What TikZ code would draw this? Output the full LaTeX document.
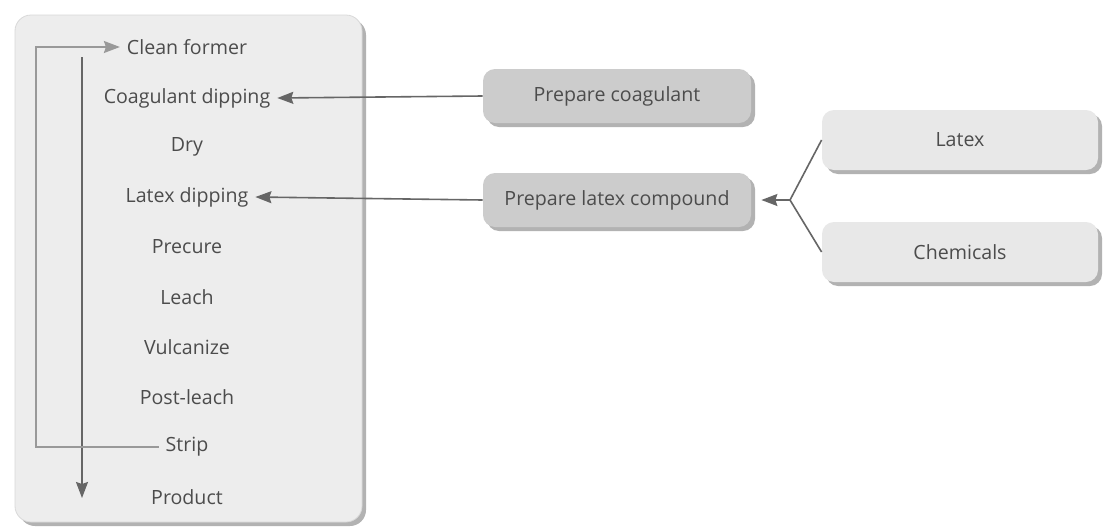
\documentclass[tikz,border=0pt]{standalone}
\usepackage{fontspec}
\setmainfont{Open Sans}
\usetikzlibrary{shadows,arrows.meta}

\begin{document}
\begin{tikzpicture}[>={Stealth[length=8pt,width=6pt,inset=1pt]},x=0.5pt,y=-0.5pt,
    every node/.style={text=black!70,font=\fontsize{9.8}{11}\selectfont},
    boxshadow/.style={drop shadow={shadow xshift=2pt,shadow yshift=-2pt,
                      fill=black!50,opacity=0.6}},
    prepbox/.style={rectangle,rounded corners=6pt,fill=black!20,boxshadow,
                    minimum width=134pt,minimum height=27pt},
    inbox/.style={rectangle,rounded corners=6pt,fill=black!9,boxshadow,
                  minimum width=138pt,minimum height=30pt},
    flow/.style={thick,black!60}]
  \useasboundingbox[fill=white] (0,0) rectangle (1116,531);
  % process panel
  \node (panel) at (188.5,268.5) [rectangle,rounded corners=8pt,fill=black!7,
         draw=black!15,boxshadow,minimum width=173.5pt,minimum height=253.5pt]{};
  \node (clean) at (187,47)  {Clean former};
  \node (coag)  at (187,98)  {Coagulant dipping};
  \node (dry)   at (187,147) {Dry};
  \node (ldip)  at (187,197) {Latex dipping};
  \node (pre)   at (187,247) {Precure};
  \node (leach) at (187,297) {Leach};
  \node (vulc)  at (187,347) {Vulcanize};
  \node (post)  at (187,397) {Post-leach};
  \node (strip) at (187,447) {Strip};
  \node (prod)  at (187,497) {Product};
  \coordinate (loopx) at (36,0);
  \coordinate (flowtop) at (82,57);
  \coordinate (flowbot) at (82,498);
  \draw [->,flow] (flowtop) -- (flowbot);
  \draw [->,thick,black!40] (strip.west) -- (strip.west -| loopx)
                            |- (clean.west);
  % preparation
  \node (prepcoag) at (617,96)  [prepbox]{Prepare coagulant};
  \node (preplat)  at (617,200) [prepbox]{Prepare latex compound};
  \node (latex)    at (960,140) [inbox]{Latex};
  \node (chem)     at (960,252) [inbox]{Chemicals};
  \coordinate (fork) at (790,200);
  \draw [->,flow] (prepcoag.west) -- (coag.east);
  \draw [->,flow] (preplat.west) -- (ldip.east);
  \draw [flow] (latex.west) -- (fork) -- (chem.west);
  \draw [->,flow,shorten >=5pt] (fork) -- (preplat.east);
\end{tikzpicture}
\end{document}
